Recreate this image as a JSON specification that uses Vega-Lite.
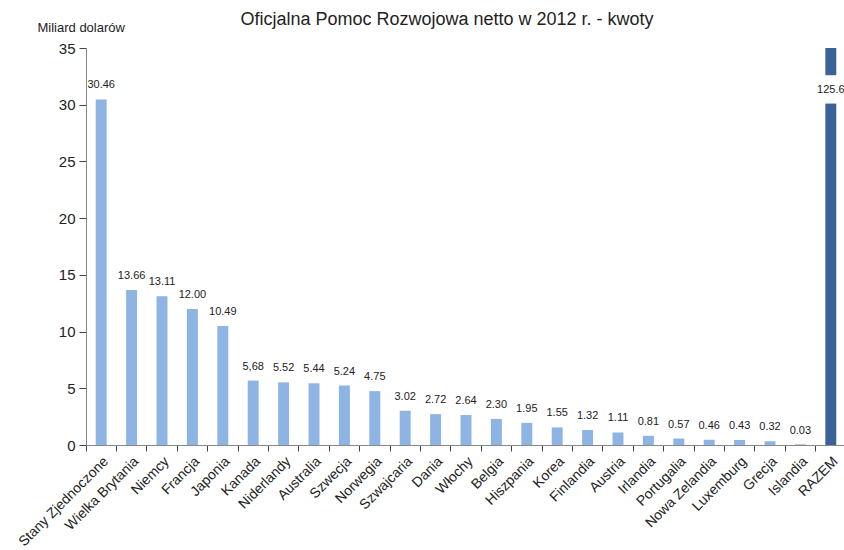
{
  "$schema": "https://vega.github.io/schema/vega-lite/v6.json",
  "width": 760,
  "height": 397,
  "autosize": {"type": "none"},
  "padding": {"left": 86, "top": 48, "right": 0, "bottom": 105},
  "background": "white",
  "title": {
    "text": "Oficjalna Pomoc Rozwojowa netto w 2012 r. - kwoty",
    "font": "Liberation Sans",
    "fontSize": 18,
    "fontWeight": "normal",
    "color": "#222222",
    "anchor": "middle",
    "dx": -19,
    "offset": -8
  },
  "config": {
    "view": {"stroke": null},
    "font": "Liberation Sans"
  },
  "data": {
    "values": [
      {"kraj": "Stany Zjednoczone", "wartosc": 30.46, "etykieta": "30.46"},
      {"kraj": "Wielka Brytania", "wartosc": 13.66, "etykieta": "13.66"},
      {"kraj": "Niemcy", "wartosc": 13.11, "etykieta": "13.11"},
      {"kraj": "Francja", "wartosc": 12.0, "etykieta": "12.00"},
      {"kraj": "Japonia", "wartosc": 10.49, "etykieta": "10.49"},
      {"kraj": "Kanada", "wartosc": 5.68, "etykieta": "5,68"},
      {"kraj": "Niderlandy", "wartosc": 5.52, "etykieta": "5.52"},
      {"kraj": "Australia", "wartosc": 5.44, "etykieta": "5.44"},
      {"kraj": "Szwecja", "wartosc": 5.24, "etykieta": "5.24"},
      {"kraj": "Norwegia", "wartosc": 4.75, "etykieta": "4.75"},
      {"kraj": "Szwajcaria", "wartosc": 3.02, "etykieta": "3.02"},
      {"kraj": "Dania", "wartosc": 2.72, "etykieta": "2.72"},
      {"kraj": "Włochy", "wartosc": 2.64, "etykieta": "2.64"},
      {"kraj": "Belgia", "wartosc": 2.3, "etykieta": "2.30"},
      {"kraj": "Hiszpania", "wartosc": 1.95, "etykieta": "1.95"},
      {"kraj": "Korea", "wartosc": 1.55, "etykieta": "1.55"},
      {"kraj": "Finlandia", "wartosc": 1.32, "etykieta": "1.32"},
      {"kraj": "Austria", "wartosc": 1.11, "etykieta": "1.11"},
      {"kraj": "Irlandia", "wartosc": 0.81, "etykieta": "0.81"},
      {"kraj": "Portugalia", "wartosc": 0.57, "etykieta": "0.57"},
      {"kraj": "Nowa Zelandia", "wartosc": 0.46, "etykieta": "0.46"},
      {"kraj": "Luxemburg", "wartosc": 0.43, "etykieta": "0.43"},
      {"kraj": "Grecja", "wartosc": 0.32, "etykieta": "0.32"},
      {"kraj": "Islandia", "wartosc": 0.03, "etykieta": "0.03"},
      {"kraj": "RAZEM", "wartosc": 125.6, "etykieta": "125.6"}
    ]
  },
  "encoding": {
    "x": {
      "field": "kraj",
      "type": "nominal",
      "sort": null,
      "scale": {"paddingInner": 0, "paddingOuter": 0},
      "axis": {
        "title": null,
        "bandPosition": 0,
        "tickExtra": false,
        "labelAngle": -45,
        "labelFontSize": 14,
        "labelColor": "#222222",
        "labelPadding": 3,
        "tickSize": 6,
        "tickColor": "#444444",
        "domainColor": "#888888",
        "labelFont": "Liberation Sans"
      }
    }
  },
  "layer": [
    {
      "mark": {"type": "bar", "width": {"band": 0.36}, "clip": true},
      "encoding": {
        "y": {
          "field": "wartosc",
          "type": "quantitative",
          "scale": {"domain": [0, 35], "nice": false},
          "axis": {
            "title": "Miliard dolarów",
            "titleAngle": 0,
            "titleX": -49,
            "titleY": -17,
            "titleAlign": "left",
            "titleBaseline": "alphabetic",
            "titleFontSize": 13,
            "titleFontWeight": "normal",
            "titleColor": "#222222",
            "titleFont": "Liberation Sans",
            "values": [0, 5, 10, 15, 20, 25, 30, 35],
            "grid": false,
            "labelFontSize": 15,
            "labelColor": "#222222",
            "labelPadding": 4,
            "tickSize": 7,
            "tickColor": "#444444",
            "domainColor": "#888888",
            "labelFont": "Liberation Sans"
          }
        },
        "color": {
          "condition": {"test": "datum.kraj === 'RAZEM' || datum.kraj === 'Islandia'", "value": "#3A6297"},
          "value": "#8DB4E2"
        }
      }
    },
    {
      "transform": [{"filter": "datum.kraj === 'RAZEM'"}],
      "mark": {"type": "rect", "width": {"band": 0.5}, "color": "white"},
      "encoding": {
        "y": {"datum": 30.1, "type": "quantitative"},
        "y2": {"datum": 32.6}
      }
    },
    {
      "transform": [{"filter": "datum.kraj !== 'RAZEM'"}],
      "mark": {"type": "text", "dy": -14, "baseline": "middle", "fontSize": 11, "color": "#222222", "font": "Liberation Sans"},
      "encoding": {
        "y": {"field": "wartosc", "type": "quantitative"},
        "text": {"field": "etykieta"}
      }
    },
    {
      "transform": [{"filter": "datum.kraj === 'RAZEM'"}],
      "mark": {"type": "text", "fontSize": 11, "color": "#222222", "font": "Liberation Sans", "baseline": "middle"},
      "encoding": {
        "y": {"datum": 31.3, "type": "quantitative"},
        "text": {"field": "etykieta"}
      }
    }
  ]
}
